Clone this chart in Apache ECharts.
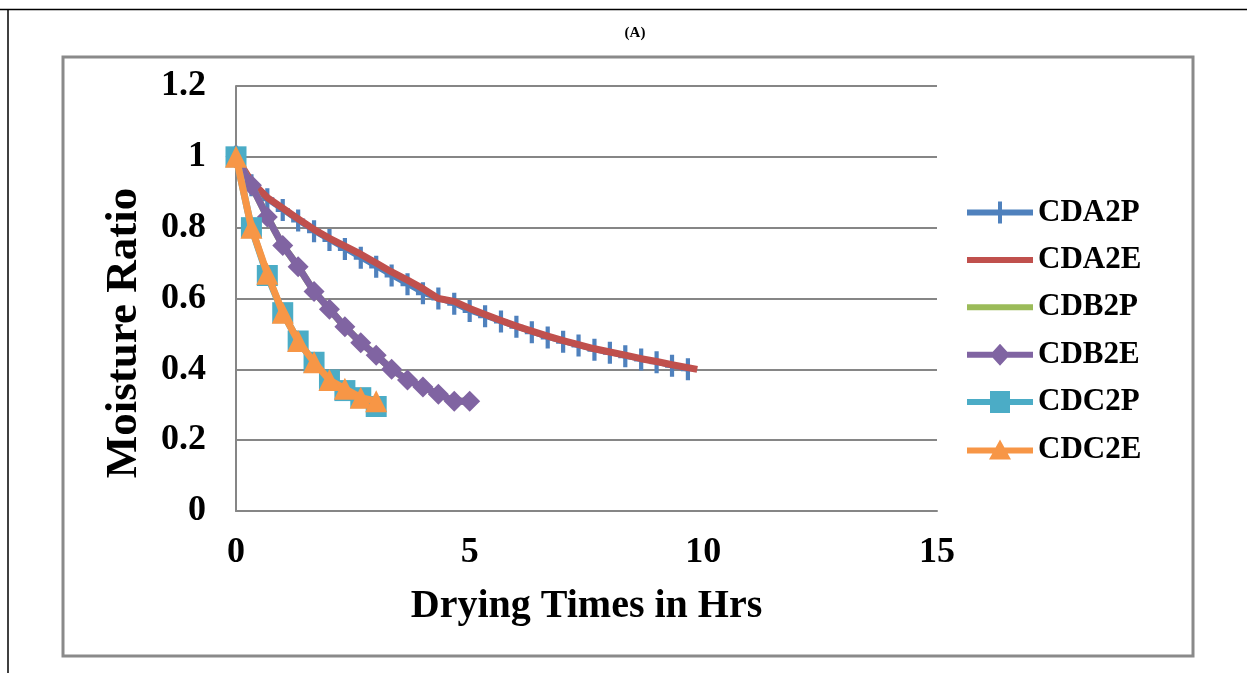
<!DOCTYPE html>
<html><head><meta charset="utf-8">
<script src="https://cdn.jsdelivr.net/npm/echarts@6/dist/echarts.min.js"></script>
<style>html,body{margin:0;padding:0;background:#fff;}#c{width:1247px;height:673px;}</style>
</head><body><div id="c"></div>
<script>
const seriesNames = ['CDA2P', 'CDA2E', 'CDB2P', 'CDB2E', 'CDC2P', 'CDC2E'];
const seriesColors = ['#4F81BD', '#C0504D', '#9BBB59', '#8064A2', '#4BACC6', '#F79646'];

const timeA = [0, 0.33, 0.67, 1, 1.33, 1.67, 2, 2.33, 2.67, 3, 3.33, 3.67, 4, 4.33, 4.67, 5, 5.33, 5.67, 6, 6.33, 6.67, 7, 7.33, 7.67, 8, 8.33, 8.67, 9, 9.33, 9.67];
const cda2p = [1.0, 0.92, 0.88, 0.85, 0.82, 0.79, 0.765, 0.74, 0.715, 0.69, 0.665, 0.64, 0.615, 0.60, 0.585, 0.565, 0.55, 0.535, 0.52, 0.505, 0.49, 0.478, 0.467, 0.455, 0.447, 0.437, 0.428, 0.42, 0.41, 0.40];
const timeAE = [0, 0.33, 0.67, 1, 1.33, 1.67, 2, 2.33, 2.67, 3, 3.33, 3.67, 4, 4.33, 4.67, 5, 5.33, 5.67, 6, 6.33, 6.67, 7, 7.33, 7.67, 8, 8.33, 8.67, 9, 9.33, 9.87];
const cda2e = [1.0, 0.93, 0.885, 0.855, 0.825, 0.795, 0.77, 0.748, 0.725, 0.70, 0.675, 0.652, 0.628, 0.60, 0.592, 0.572, 0.555, 0.538, 0.522, 0.508, 0.494, 0.481, 0.47, 0.458, 0.449, 0.44, 0.43, 0.422, 0.413, 0.40];

const timeB = [0, 0.33, 0.67, 1, 1.33, 1.67, 2, 2.33, 2.67, 3, 3.33, 3.67, 4, 4.33, 4.67, 5];
const cdb2p = [1.0, 0.92, 0.83, 0.75, 0.69, 0.62, 0.57, 0.52, 0.475, 0.44, 0.40, 0.37, 0.35, 0.33, 0.31, 0.31];
const cdb2e = [1.0, 0.92, 0.83, 0.75, 0.69, 0.62, 0.57, 0.52, 0.475, 0.44, 0.40, 0.37, 0.35, 0.33, 0.31, 0.31];

const timeC = [0, 0.33, 0.67, 1, 1.33, 1.67, 2, 2.33, 2.67, 3];
const cdc2p = [1.0, 0.80, 0.665, 0.56, 0.48, 0.42, 0.37, 0.34, 0.32, 0.295];
const cdc2e = [1.0, 0.80, 0.67, 0.56, 0.48, 0.42, 0.37, 0.345, 0.32, 0.31];

const FONT = '"Liberation Serif", "Times New Roman", serif';
const PLUS = 'path://M-0.3,-1 L0.3,-1 L0.3,-0.18 L1,-0.18 L1,0.18 L0.3,0.18 L0.3,1 L-0.3,1 L-0.3,0.18 L-1,0.18 L-1,-0.18 L-0.3,-0.18 Z';

// legend icons (line + marker), drawn in a 66 x 22 box
const BAR = 'M0,-3 L66,-3 L66,3 L0,3 Z';
const legendIcons = [
  'path://' + BAR + ' M31,-11 L35,-11 L35,11 L31,11 Z',
  'path://' + BAR,
  'path://' + BAR,
  'path://' + BAR + ' M33,-11 L43,0 L33,11 L23,0 Z',
  'path://' + BAR + ' M23,-11 L43,-11 L43,11 L23,11 Z',
  'path://' + BAR + ' M33,-11 L44,9 L22,9 Z'
];

function pairs(t, v) { return t.map((x, i) => [x, v[i]]); }

const chart = echarts.init(document.getElementById('c'), null, { renderer: 'canvas' });
const mk = (i, t, v, symbol, size, width) => ({
  name: seriesNames[i], type: 'line', data: pairs(t, v),
  symbol: symbol, symbolSize: size, showSymbol: symbol !== 'none',
  lineStyle: { color: seriesColors[i], width: width, cap: 'butt', join: 'round' },
  itemStyle: { color: seriesColors[i], borderWidth: 0 },
  z: 2 + i, animation: false, silent: true
});

chart.setOption({
  animation: false,
  grid: { left: 236, right: 310, top: 86, bottom: 162, containLabel: false },
  xAxis: {
    type: 'value', min: 0, max: 15, interval: 5,
    axisLine: { show: true, lineStyle: { color: '#868686', width: 2 } },
    axisTick: { show: false },
    splitLine: { show: false },
    axisLabel: { fontFamily: FONT, fontWeight: 'bold', fontSize: 36, color: '#000', margin: 24 },
    name: 'Drying Times in Hrs', nameLocation: 'middle', nameGap: 76,
    nameTextStyle: { fontFamily: FONT, fontWeight: 'bold', fontSize: 40, color: '#000' }
  },
  yAxis: {
    type: 'value', min: 0, max: 1.2, interval: 0.2,
    axisLine: { show: true, lineStyle: { color: '#868686', width: 2 } },
    axisTick: { show: false },
    splitLine: { show: true, lineStyle: { color: '#868686', width: 2 } },
    axisLabel: { fontFamily: FONT, fontWeight: 'bold', fontSize: 36, color: '#000', margin: 30 }
  },
  legend: {
    orient: 'vertical', left: 962, top: 192, itemWidth: 66, itemHeight: 22, itemGap: 16.4,
    textStyle: { fontFamily: FONT, fontWeight: 'bold', fontSize: 31, color: '#000' },
    data: seriesNames.map((n, i) => ({ name: n, icon: legendIcons[i] }))
  },
  series: [
    mk(0, timeA, cda2p, PLUS, [14, 22], 5),
    mk(1, timeAE, cda2e, 'none', 6, 7),
    mk(2, timeB, cdb2p, 'none', 6, 7),
    mk(3, timeB, cdb2e, 'diamond', 21, 7),
    mk(4, timeC, cdc2p, 'rect', 21, 7),
    mk(5, timeC, cdc2e, 'triangle', 22, 7)
  ],
  graphic: [
    { type: 'line', shape: { x1: 0, y1: 9.5, x2: 1247, y2: 9.5 }, style: { stroke: '#000', lineWidth: 1.5 } },
    { type: 'line', shape: { x1: 8, y1: 9, x2: 8, y2: 673 }, style: { stroke: '#000', lineWidth: 1.5 } },
    { type: 'rect', shape: { x: 63, y: 57, width: 1130, height: 599 }, style: { fill: 'none', stroke: '#8a8a8a', lineWidth: 3 }, z: -1 },
    { type: 'text', x: 635, y: 33, style: { text: '(A)', font: 'bold 15px "Liberation Serif", serif', fill: '#000', textAlign: 'center', textVerticalAlign: 'middle' } },
    { type: 'text', x: 124, y: 333, rotation: Math.PI / 2, style: { text: 'Moisture Ratio', font: 'bold 45px "Liberation Serif", serif', fill: '#000', textAlign: 'center', textVerticalAlign: 'middle' } }
  ]
});
</script></body></html>
